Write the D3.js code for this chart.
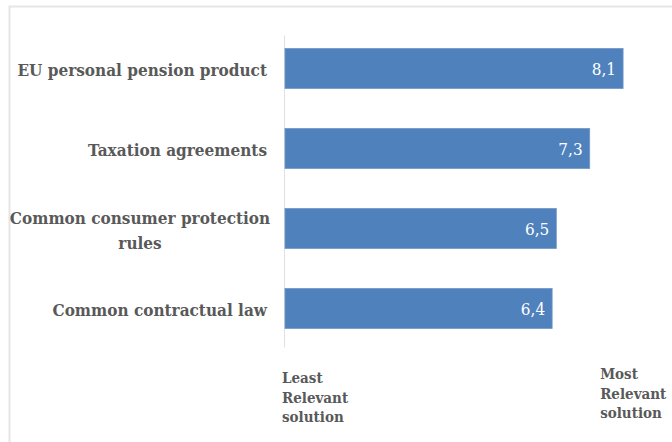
<!DOCTYPE html>
<html>
<head>
<meta charset="utf-8">
<script src="https://cdn.jsdelivr.net/npm/d3@7/dist/d3.min.js"></script>
<style>
  body { margin: 0; background: #fff; }
  svg { display: block; }
</style>
</head>
<body>
<svg id="chart"></svg>
<script>
//*************** data ******************//
var categories = ["EU personal pension product", "Taxation agreements", "Common consumer protection rules", "Common contractual law"];
var categoryLines = [["EU personal pension product"], ["Taxation agreements"], ["Common consumer protection", "rules"], ["Common contractual law"]];
var values = [8.1, 7.3, 6.5, 6.4];
var leastLabel = ["Least", "Relevant", "solution"];
var mostLabel = ["Most", "Relevant", "solution"];

//*************** canvas ******************//
var W = 672, H = 442;
var svg = d3.select("#chart").attr("width", W).attr("height", H);

var serif = "'DejaVu Serif Condensed', 'DejaVu Serif', serif";
var textGrey = "#595959";

// light frame (top and left edges visible)
svg.append("path")
.attr("d", "M9.5," + H + " V6.5 H" + W)
.attr("fill", "none")
.attr("stroke", "#e6e6e6")
.attr("stroke-width", 2);

// scales
var xScale = d3.scaleLinear().domain([0, 9.2]).range([285, 669]);
var yScale = d3.scaleBand().domain(categories).range([28.5, 348.5]).paddingInner(0.5).paddingOuter(0.25);

// category axis line
svg.append("line")
.attr("x1", xScale(0) - 0.5).attr("x2", xScale(0) - 0.5)
.attr("y1", yScale.range()[0] + 7).attr("y2", yScale.range()[1] - 1)
.attr("stroke", "#e0e0e0")
.attr("stroke-width", 1);

// bars
svg.append("g").selectAll("rect")
.data(values)
.enter().append("rect")
.attr("x", xScale(0))
.attr("y", function(d, i) { return yScale(categories[i]); })
.attr("width", function(d) { return xScale(d) - xScale(0); })
.attr("height", yScale.bandwidth())
.attr("fill", "#4f81bd")
.attr("stroke", "#6f97c8")
.attr("stroke-width", 0.8);

// value labels inside bar ends
svg.append("g").selectAll("text")
.data(values)
.enter().append("text")
.attr("x", function(d) { return xScale(d) - 7; })
.attr("y", function(d, i) { return yScale(categories[i]) + yScale.bandwidth() / 2; })
.attr("dy", "0.38em")
.attr("text-anchor", "end")
.attr("fill", "#ffffff")
.style("font-family", serif)
.style("font-size", "17px")
.text(function(d) { return d.toFixed(1).replace(".", ","); });

// category labels
var lineH = 25;
var catG = svg.append("g")
.style("font-family", serif)
.style("font-size", "17px")
.style("font-weight", "bold")
.attr("fill", textGrey);

categoryLines.forEach(function(lines, i) {
    var cy = yScale(categories[i]) + yScale.bandwidth() / 2;
    var multi = lines.length > 1;
    var t = catG.append("text")
    .attr("text-anchor", multi ? "middle" : "end")
    .attr("x", multi ? 140 : 267)
    .attr("y", cy - (lines.length - 1) * lineH / 2 + 2);
    lines.forEach(function(l, j) {
        t.append("tspan")
        .attr("x", multi ? 140 : 267)
        .attr("dy", j === 0 ? "0.35em" : lineH)
        .text(l);
    });
});

// axis end labels
function endLabel(lines, x, y) {
    var t = svg.append("text")
    .attr("x", x).attr("y", y)
    .style("font-family", serif)
    .style("font-size", "15px")
    .style("font-weight", "bold")
    .attr("fill", textGrey);
    lines.forEach(function(l, j) {
        t.append("tspan").attr("x", x).attr("dy", j === 0 ? 0 : 19.5).text(l);
    });
}
endLabel(leastLabel, xScale(0) - 3, 383);
endLabel(mostLabel, xScale(7.55), 379);
</script>
</body>
</html>
